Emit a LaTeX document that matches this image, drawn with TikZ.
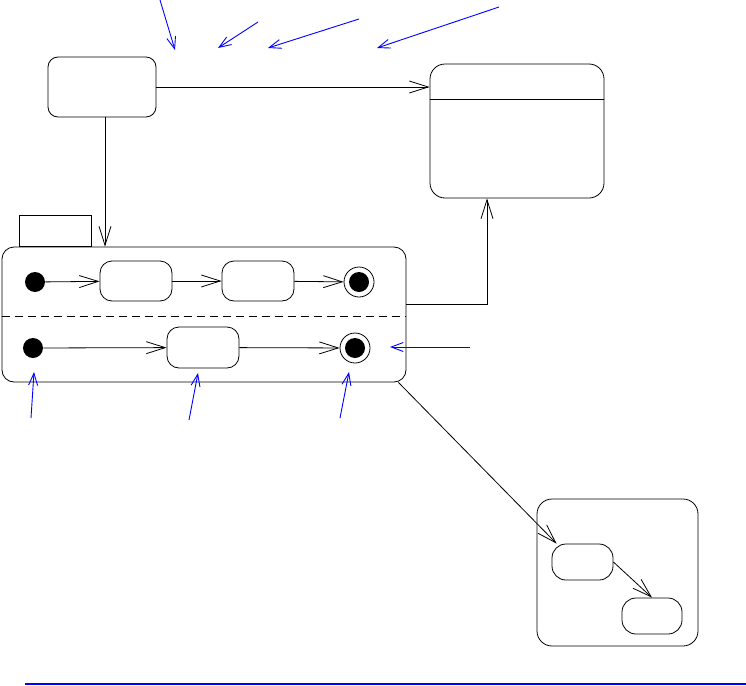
\documentclass[tikz,border=0pt]{standalone}
\usetikzlibrary{arrows.meta}
\begin{document}
\begin{tikzpicture}[x=1pt,y=-1pt,
  line width=0.8pt,
  arr/.style={-{Straight Barb[length=19pt,width=12pt,line width=0.8pt]}},
  barr/.style={blue,line width=0.9pt,-{Straight Barb[length=12pt,width=9pt,line width=0.9pt]}},
  statebox/.style={draw,rectangle,rounded corners=#1,inner sep=0pt},
  statebox/.default=12pt,
  initdot/.style={circle,fill=black,minimum size=20pt,inner sep=0pt},
  finaldot/.style={circle,draw,minimum size=30pt,inner sep=0pt,
    path picture={\fill (path picture bounding box.center) circle (10pt);}},
  tabbox/.style={draw,rectangle,inner sep=0pt,minimum width=72pt,minimum height=31pt}
]
\useasboundingbox (0,0) rectangle (746,685);

% top left state
\node[statebox=10pt,minimum width=108pt,minimum height=60pt] (A) at (102,87) {};
% right compartment state
\node[statebox=15pt,minimum width=174pt,minimum height=134pt] (B) at (517,131) {};
\draw ([yshift=-36pt]B.north west) -- ([yshift=-36pt]B.north east);

% composite state
\node[statebox=12pt,minimum width=404pt,minimum height=135pt] (C) at (204,314.5) {};
\node[tabbox,anchor=south west] (T) at ([xshift=17pt]C.north west) {};
\draw[dashed,dash pattern=on 8pt off 5pt] ([yshift=-70pt]C.north west) -- ([yshift=-70pt]C.north east);

% regions
\node[initdot] (i1) at (35,282) {};
\node[statebox,minimum width=72pt,minimum height=40pt] (s1) at (136,281) {};
\node[statebox,minimum width=72pt,minimum height=40pt] (s2) at (258,281) {};
\node[finaldot] (f1) at (359,282) {};
\node[initdot] (i2) at (33,348) {};
\node[statebox,minimum width=72pt,minimum height=41pt] (s3) at (203,347.5) {};
\node[finaldot] (f2) at (355,348) {};

\draw[arr] (i1) -- (s1);
\draw[arr] (s1) -- (s2);
\draw[arr] (s2) -- (f1);
\draw[arr] (i2) -- (s3);
\draw[arr] (s3) -- (f2);

% lower right state
\node[statebox=15pt,minimum width=161pt,minimum height=147pt] (E) at (617.5,572.5) {};
\node[statebox=14pt,minimum width=61pt,minimum height=36pt] (D1) at (582.5,562) {};
\node[statebox=14pt,minimum width=60pt,minimum height=36pt] (D2) at (652,616) {};
\draw[arr] (D1.east) -- (D2.north);

% transitions
\draw[arr] (A.east) -- (A.east -| B.west);
\draw[arr] ([xshift=3pt]A.south) -- ([xshift=3pt]A.south |- C.north);
\draw[arr] ([yshift=10pt]C.east) -| ([xshift=-30pt]B.south);
\draw[arr] ([xshift=-8pt]C.south east) -- ([xshift=5pt]D1.north west);

% blue annotation arrows
\coordinate (p1) at (160,0);   \coordinate (q1) at (175,50);
\coordinate (p2) at (258,22);  \coordinate (q2) at (218,48);
\coordinate (p3) at (359,19);  \coordinate (q3) at (268,48);
\coordinate (p4) at (499,7);   \coordinate (q4) at (377,48);
\coordinate (p5) at (470,347); \coordinate (q5) at (390,347);
\coordinate (p6) at (31,418);  \coordinate (q6) at (34,372);
\coordinate (p7) at (189,420); \coordinate (q7) at (198,373);
\coordinate (p8) at (340,418); \coordinate (q8) at (349,372);
\foreach \k in {1,...,8} {\draw[barr] (p\k) -- (q\k);}

% bottom rule
\coordinate (r1) at (25,684);
\coordinate (r2) at (746,684);
\draw[blue,line width=2.4pt] (r1) -- (r2);
\end{tikzpicture}
\end{document}
